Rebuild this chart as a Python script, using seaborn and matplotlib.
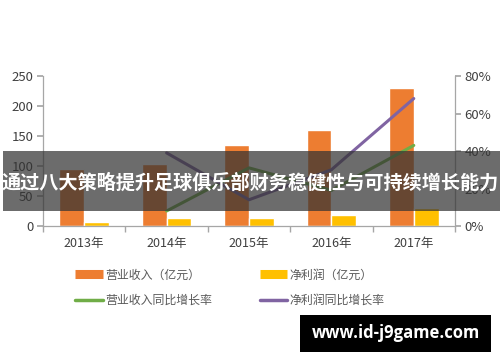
import numpy as np
import pandas as pd
import matplotlib
matplotlib.use("Agg")
import matplotlib.pyplot as plt
from matplotlib.lines import Line2D
from matplotlib.patches import Rectangle
import seaborn as sns

years = ["2013年", "2014年", "2015年", "2016年", "2017年"]
revenue = [95, 103, 135, 160, 230]
profit = [7, 13, 14, 18, 30]
rev_growth = [np.nan, 8, 31, 19, 43]
profit_growth = [np.nan, 39, 14, 30, 68]
left_ticks = [0, 50, 100, 150, 200, 250]
right_ticks = [0, 20, 40, 60, 80]
title = "通过八大策略提升足球俱乐部财务稳健性与可持续增长能力"
watermark = "www.id-j9game.com"
labels = ["营业收入（亿元）", "净利润（亿元）", "营业收入同比增长率", "净利润同比增长率"]

sns.set_theme(style="white")
plt.rcParams["font.family"] = ["Noto Sans CJK SC", "DejaVu Sans"]

C_REV, C_PRO, C_G1, C_G2 = "#ED7D31", "#FFC000", "#70AD47", "#8064A2"
TXT = "#404040"
AX = "#a6a6a6"

fig = plt.figure(figsize=(5, 3.62), dpi=100)
ax = fig.add_axes([0.086, 0.3757, 0.824, 0.4143])

df = pd.DataFrame({
    "year": years * 2,
    "value": revenue + profit,
    "series": [labels[0]] * 5 + [labels[1]] * 5,
})
sns.barplot(data=df, x="year", y="value", hue="series", order=years,
            hue_order=labels[:2], palette=[C_REV, C_PRO], width=0.6, gap=0,
            saturation=1, legend=False, ax=ax)
ax.set_xlim(-0.5, 4.5)
ax.set_ylim(0, 250)
ax.set_yticks(left_ticks)
ax.set_xlabel("")
ax.set_ylabel("")

ax2 = ax.twinx()
xs = np.arange(len(years))
sns.lineplot(x=xs, y=rev_growth, color=C_G1, lw=2.2, ax=ax2)
sns.lineplot(x=xs, y=profit_growth, color=C_G2, lw=2.2, ax=ax2)
ax2.set_ylim(0, 80)
ax2.set_yticks(right_ticks)
ax2.set_yticklabels([f"{v}%" for v in right_ticks])
ax2.set_xlim(-0.5, 4.5)

for a in (ax, ax2):
    for s in a.spines.values():
        s.set_visible(False)
ax.spines["left"].set_visible(True)
ax.spines["bottom"].set_visible(True)
ax2.spines["right"].set_visible(True)
for s in (ax.spines["left"], ax.spines["bottom"], ax2.spines["right"]):
    s.set_color(AX)
    s.set_linewidth(0.9)

ax.tick_params(axis="y", left=True, length=4, color=AX, labelsize=9.5, labelcolor=TXT, pad=3)
ax2.tick_params(axis="y", right=True, length=4, color=AX, labelsize=9.5, labelcolor=TXT, pad=3)
ax.set_xticks(xs)
ax.set_xticklabels(years)
ax.tick_params(axis="x", which="major", length=0, labelsize=9, labelcolor=TXT, pad=8)
ax.set_xticks(np.arange(-0.5, 5, 1), minor=True)
ax.tick_params(axis="x", which="minor", bottom=True, length=4, color=AX)

h_rev = Line2D([0], [0], color=C_REV, lw=6.5, solid_capstyle="butt")
h_pro = Line2D([0], [0], color=C_PRO, lw=6.5, solid_capstyle="butt")
h_g1 = Line2D([0], [0], color=C_G1, lw=2.5)
h_g2 = Line2D([0], [0], color=C_G2, lw=2.5)
leg = fig.legend([h_rev, h_g1, h_pro, h_g2], [labels[0], labels[2], labels[1], labels[3]],
                 ncol=2, loc="center", bbox_to_anchor=(0.46, 0.205),
                 frameon=False, fontsize=8.6, handlelength=2.3, handletextpad=0.2,
                 columnspacing=4.0, labelspacing=1.05)
for t in leg.get_texts():
    t.set_color("#595959")

# banner overlay
fig.patches.append(Rectangle((0.006, 1 - 211 / 362), 0.994, 60 / 362, transform=fig.transFigure,
                             facecolor=(0.2, 0.2, 0.2, 0.72), edgecolor="none", zorder=10))
fig.text(0.5, 1 - 183 / 362, title, color="white", fontsize=13.8, fontweight="bold",
         ha="center", va="center", zorder=11)

# watermark box
fig.patches.append(Rectangle((300 / 500, 1 - 352 / 362), 191 / 500, 37 / 362, transform=fig.transFigure,
                             facecolor="black", edgecolor="none", zorder=10))
fig.text(395.5 / 500, 1 - 333.5 / 362, watermark, color="white", fontsize=12, fontweight="bold",
         ha="center", va="center", zorder=11, family=["Open Sans", "DejaVu Sans"])

fig.savefig("out.png", dpi=100)
